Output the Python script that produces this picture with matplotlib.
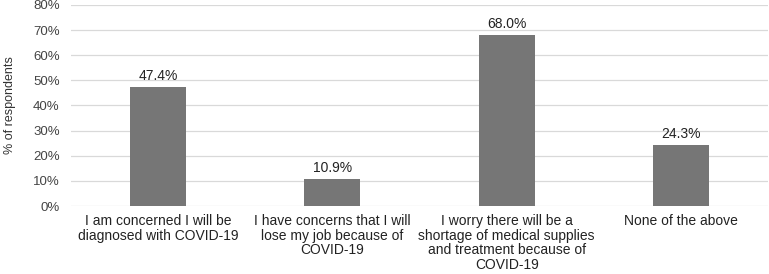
import matplotlib
matplotlib.use("Agg")
import matplotlib.pyplot as plt
from matplotlib.ticker import PercentFormatter

plt.rcParams["font.family"] = ["Liberation Sans", "DejaVu Sans"]

categories = [
    "I am concerned I will be\ndiagnosed with COVID-19",
    "I have concerns that I will\nlose my job because of\nCOVID-19",
    "I worry there will be a\nshortage of medical supplies\nand treatment because of\nCOVID-19",
    "None of the above",
]
values = [47.4, 10.9, 68.0, 24.3]

fig = plt.figure(figsize=(7.69, 2.74), dpi=100, facecolor="white")
ax = fig.add_axes([0.092, 0.248, 0.907, 0.734])

x = range(len(categories))
ax.bar(x, values, width=0.32, color="#767676", zorder=3)
for i, v in enumerate(values):
    ax.text(i, v + 1.5, f"{v:.1f}%", ha="center", va="bottom", fontsize=10, color="#222222")

ax.set_xlim(-0.5, len(categories) - 0.5)
ax.set_ylim(0, 80)
ax.set_yticks(range(0, 81, 10))
ax.yaxis.set_major_formatter(PercentFormatter(decimals=0))
ax.set_xticks(list(x))
ax.set_xticklabels(categories, fontsize=10, color="#222222", linespacing=1.05)
ax.tick_params(axis="y", labelsize=9.5, colors="#444444", length=0, pad=8)
ax.tick_params(axis="x", length=0, pad=6)
ax.set_ylabel("% of respondents", fontsize=9, color="#333333", labelpad=12)
ax.grid(axis="y", color="#d9d9d9", lw=0.9, zorder=0)
for s in ax.spines.values():
    s.set_visible(False)

fig.savefig("out.png", dpi=100)
